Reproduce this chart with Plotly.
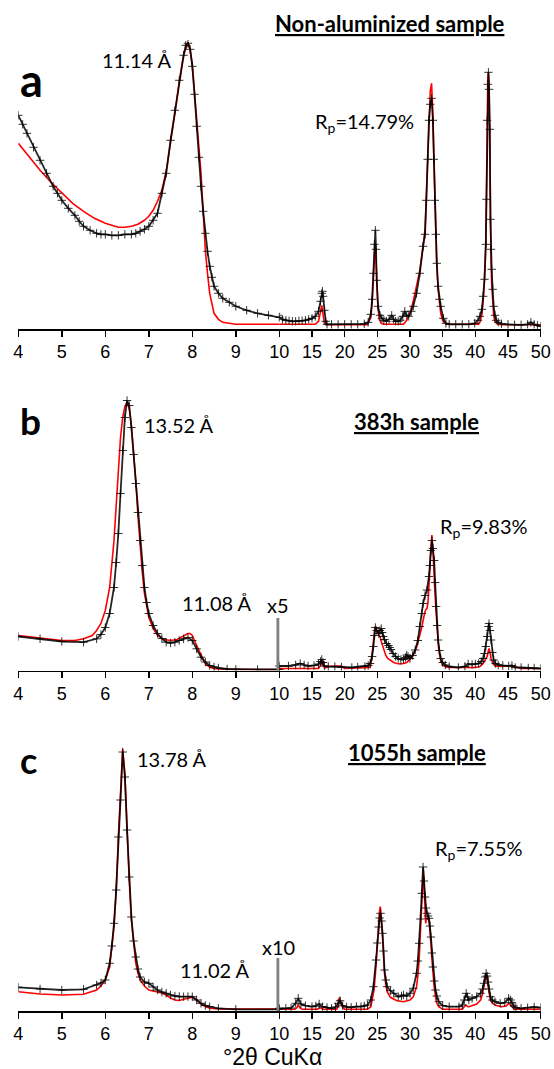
import plotly.graph_objects as go

# ---------------- data (2theta in degrees, intensity in arbitrary units) ----------------
# Panel a : Non-aluminized sample
a_obs_theta = [4.0, 4.1, 4.2, 4.35, 4.5, 4.65, 4.8, 4.9, 5.0, 5.15, 5.3, 5.4, 5.5, 5.65, 5.8, 5.9, 6.0, 6.15, 6.3, 6.45,
               6.6, 6.7, 6.8, 6.9, 7.0, 7.1, 7.2, 7.3, 7.4, 7.5, 7.6, 7.7, 7.8, 7.85, 7.9, 7.95, 8.0, 8.05, 8.1, 8.15,
               8.2, 8.25, 8.3, 8.35, 8.4, 8.45, 8.5, 8.6, 8.7, 8.85, 9.0, 9.25, 9.5, 9.75, 10.0,
               10.5, 11.0, 11.5, 12.0, 12.5, 13.0, 13.5, 14.0, 14.5, 15.0, 15.5, 16.0, 16.3, 16.5, 16.6, 16.7, 16.9,
               17.1, 17.3, 18.0, 19.0, 20.0, 21.0, 22.0, 23.0, 23.6, 24.0, 24.2, 24.4, 24.55, 24.7, 24.8, 24.9, 25.1,
               25.4, 25.7, 26.0, 26.4, 26.8, 27.2, 27.5, 27.8, 28.2, 28.5, 28.9, 29.2, 29.5, 29.8, 30.2, 30.5, 31.0,
               31.5, 32.0, 32.3, 32.5, 32.7, 32.9, 33.1, 33.3, 33.5, 33.65, 33.8, 33.95, 34.1, 34.3, 34.5, 34.7, 35.1,
               35.5, 36.0, 37.0, 38.0, 39.0, 39.9, 40.4, 40.7, 41.0, 41.2, 41.4, 41.6, 41.7, 41.8, 41.9, 42.0, 42.1,
               42.2, 42.3, 42.4, 42.5, 42.65, 42.8, 43.0, 43.2, 43.5, 44.0, 45.0, 46.0, 47.0, 48.0, 48.5, 49.0, 49.5, 50.0]
a_obs = [214, 205, 196, 182, 169, 156, 143, 136, 129, 121, 114, 108, 103, 99, 96, 95, 95, 94, 94, 95,
         95, 96, 98, 100, 103, 109, 116, 136, 156, 189, 219, 249, 274, 284, 286, 280, 263, 235, 203, 172,
         143, 118, 96, 78, 63, 52, 43, 36, 31, 27, 23, 19, 16, 14, 12,
         10, 9, 8.5, 8, 8, 8.5, 8.5, 9, 10, 11, 13, 18, 28, 36, 38, 33, 19,
         8, 5, 5, 5, 5, 5, 5, 5.5, 7, 15, 30, 56, 85, 99, 80, 49, 23,
         14, 11, 9, 8, 10, 14, 10, 8, 8, 9, 13, 18, 14, 13, 18, 23, 36,
         56, 83, 95, 129, 170, 209, 225, 231, 209, 170, 129, 95, 66, 43, 30, 23, 11,
         6, 5, 5, 5, 5, 6, 9, 13, 20, 33, 50, 85, 130, 209, 245, 257, 240,
         200, 110, 80, 60, 40, 23, 14, 9, 7, 5.5, 5, 4.5, 4.5, 5, 7, 5, 4, 3]
a_calc_theta = [4.0, 4.25, 4.5, 4.75, 5.0, 5.25, 5.5, 5.75, 6.0, 6.15, 6.3, 6.45, 6.6, 6.75, 6.9, 7.0, 7.1, 7.2, 7.3,
                7.4, 7.5, 7.6, 7.7, 7.8, 7.9, 7.95, 8.0, 8.05, 8.1, 8.15, 8.2, 8.25, 8.3, 8.35, 8.4, 8.5, 8.6, 8.7,
                9.0, 10.0, 15.5, 16.0, 16.3, 16.5, 16.7, 16.9, 17.2, 20.0, 23.5, 24.0, 24.2, 24.4, 24.55, 24.65,
                24.8, 24.9, 25.1, 25.3, 25.6, 26.0, 29.0, 29.5, 30.0, 30.5, 31.0, 31.5, 32.0, 32.3, 32.5, 32.7,
                32.9, 33.1, 33.3, 33.5, 33.65, 33.8, 33.95, 34.1, 34.3, 34.5, 34.7, 35.0, 35.5, 36.0, 40.5, 40.7,
                41.0, 41.2, 41.4, 41.6, 41.7, 41.8, 41.9, 42.0, 42.1, 42.2, 42.3, 42.4, 42.5, 42.65, 42.8, 43.0,
                43.5, 44.0, 50.0]
a_calc = [186, 172, 159, 147, 136, 126, 118, 111, 106, 104, 102, 102, 103, 105, 109, 113, 119, 128, 139,
          158, 186, 216, 248, 274, 287, 280, 265, 240, 210, 183, 156, 115, 79, 56, 36, 16, 10, 7,
          5, 5, 5, 8, 16, 24, 15, 6, 4.5, 4.5, 4.5, 12, 25, 50, 78, 86,
          70, 45, 22, 10, 6, 5, 5, 9, 16, 28, 43, 59, 83, 100, 133, 175,
          212, 238, 246, 215, 172, 130, 95, 64, 40, 25, 16, 9, 5.5, 5, 5, 7,
          15, 29, 50, 85, 140, 215, 250, 257, 245, 200, 110, 70, 45, 25, 14, 8,
          5, 4.5, 4.5]

# Panel b : 383h sample (x5 above 10 deg)
b_obs_theta = [4.0, 4.5, 5.0, 5.5, 5.8, 5.9, 6.0, 6.1, 6.2, 6.25, 6.3, 6.35, 6.4, 6.45, 6.5, 6.55, 6.6, 6.65, 6.7,
               6.75, 6.8, 6.85, 6.9, 6.95, 7.0, 7.1, 7.2, 7.3, 7.4, 7.5, 7.6, 7.7, 7.8, 7.9, 8.0, 8.1, 8.2, 8.3,
               8.4, 8.5, 8.6, 8.8, 9.0, 9.5, 10.0,
               10.0, 11.4, 12.5, 13.2, 13.8, 14.4, 15.3, 16.0, 16.3, 16.5, 16.7, 16.9, 17.5, 18.5, 19.5, 21.1,
               22.0, 23.1, 23.6, 23.9, 24.2, 24.4, 24.55, 24.7, 24.9, 25.2, 25.4, 25.6, 25.75, 25.9, 26.1, 26.4,
               26.7, 26.9, 27.1, 27.4, 27.8, 28.2, 28.6, 29.0, 29.3, 29.5, 29.7, 30.0, 30.4, 30.8, 31.2, 31.5,
               31.8, 32.0, 32.3, 32.6, 32.9, 33.05, 33.2, 33.35, 33.5, 33.7, 33.85, 34.0, 34.15, 34.3, 34.5,
               34.7, 35.0, 35.4, 36.0, 37.4, 38.4, 38.9, 39.5, 40.0, 40.5, 40.9, 41.2, 41.4, 41.6, 41.8, 42.0,
               42.1, 42.25, 42.4, 42.6, 42.8, 43.1, 43.5, 44.2, 45.1, 45.6, 46.1, 47.0, 48.1, 49.0, 50.0]
b_obs = [34, 31.7, 29, 28.3, 31.7, 36, 43, 57, 83, 108, 137, 177, 220, 253, 270, 265, 243, 216, 187,
         158, 130, 105, 83, 68, 57, 45, 37, 32, 28.3, 27.5, 28.3, 30, 31.7, 33, 30, 21.7, 13.3, 8.5,
         5, 3.5, 2.5, 1.5, 1.2, 1, 1,
         4.5, 4.5, 5.5, 7, 5.5, 4.5, 5, 6.5, 9, 11, 8, 4.5, 4, 4, 3.5, 3,
         3.5, 4, 5, 7, 14, 24, 35, 43, 40, 37, 40, 42, 38, 34, 31, 27,
         25, 23, 21, 17, 14, 12, 11, 11, 13, 15.5, 14, 12, 15, 20.5, 30, 44,
         57, 67, 75, 80.5, 94, 105, 120, 130, 122, 110, 88, 64, 45, 30.5, 20,
         12, 8, 5.5, 4, 3, 4, 6.5, 6, 6.5, 7, 9, 12, 17, 24, 34, 44,
         47, 40, 30.5, 18, 10.5, 7, 5.5, 5, 4.5, 5, 3, 3, 2.5, 2.5, 2]
b_calc_theta = [4.0, 4.5, 5.0, 5.3, 5.5, 5.7, 5.8, 5.9, 6.0, 6.1, 6.2, 6.25, 6.3, 6.35, 6.4, 6.45, 6.5, 6.55, 6.6,
                6.65, 6.7, 6.75, 6.8, 6.85, 6.9, 6.95, 7.0, 7.1, 7.2, 7.35, 7.5, 7.65, 7.8, 7.9, 7.95, 8.0, 8.1,
                8.2, 8.3, 8.4, 8.5, 9.0, 10.0,
                10.0, 16.0, 16.3, 16.5, 16.7, 17.0, 17.5, 18.5, 19.5, 20.0, 23.9, 24.1, 24.3, 24.5, 24.65, 24.8,
                25.0, 25.2, 25.4, 25.7, 26.0, 26.3, 26.6, 27.0, 27.5, 28.0, 28.5, 29.0, 29.5, 30.0, 30.5, 31.0,
                31.5, 31.8, 32.0, 32.15, 32.3, 32.45, 32.6, 32.75, 32.9, 33.0, 33.1, 33.2, 33.35, 33.5, 33.6,
                33.8, 34.0, 34.2, 34.4, 34.7, 35.0, 35.5, 36.0, 40.0, 40.7, 41.2, 41.5, 41.8, 42.0, 42.1, 42.25,
                42.4, 42.7, 43.0, 44.0, 45.0, 45.6, 46.0, 47.0, 50.0]
b_calc = [35, 32.5, 30, 30, 31.7, 35, 40, 47, 60, 83, 130, 165, 203, 233, 253, 264, 268, 262, 245,
          220, 190, 155, 123, 98, 77, 63, 53, 42, 35, 31, 30, 31, 35, 37, 37, 35, 25,
          15, 6.7, 3.5, 1.7, 1, 1,
          2, 2, 5, 9, 5, 2.5, 4, 4.5, 4.5, 2, 3, 10, 25, 40, 44, 41,
          39, 37, 34, 27, 20.5, 15, 12, 10, 8, 7, 6.5, 7, 8, 11, 15.5, 23,
          34, 43, 50, 55, 59, 61, 62, 68, 80, 95, 114, 128, 135.5, 122, 104,
          80, 57, 36, 20.5, 10, 5.5, 3.5, 3, 3, 4, 7, 10, 14, 20, 22, 18,
          12, 7, 4.5, 4, 4.5, 5, 4, 2, 2]

# Panel c : 1055h sample (x10 above 10 deg)
c_obs_theta = [4.0, 4.5, 5.0, 5.5, 5.8, 5.9, 6.0, 6.1, 6.15, 6.2, 6.25, 6.3, 6.35, 6.4, 6.45, 6.5, 6.55, 6.6, 6.65,
               6.7, 6.75, 6.8, 6.9, 7.0, 7.1, 7.2, 7.3, 7.4, 7.5, 7.6, 7.7, 7.8, 7.9, 8.0, 8.1, 8.2, 8.3, 8.4,
               8.6, 9.0, 10.0,
               10.0, 11.0, 11.8, 12.5, 12.9, 13.3, 14.0, 15.0, 15.6, 16.1, 16.6, 17.3, 18.0, 18.6, 19.0, 19.3,
               19.7, 20.3, 21.0, 21.8, 22.5, 23.0, 23.5, 24.0, 24.4, 24.8, 25.0, 25.2, 25.35, 25.5, 25.65, 25.8,
               25.95, 26.1, 26.3, 26.5, 27.0, 27.5, 28.2, 28.7, 29.0, 29.5, 30.0, 30.5, 31.0, 31.2, 31.4, 31.6,
               31.8, 32.0, 32.15, 32.3, 32.45, 32.6, 32.75, 32.9, 33.05, 33.2, 33.35, 33.5, 33.7, 33.9, 34.1,
               34.4, 35.0, 36.0, 37.5, 38.0, 38.3, 38.6, 38.8, 39.0, 39.5, 40.2, 40.8, 41.1, 41.3, 41.5, 41.65,
               41.8, 41.95, 42.1, 42.3, 42.6, 43.0, 43.8, 44.5, 45.1, 45.4, 45.6, 45.9, 46.2, 47.0, 48.0, 49.0, 50.0]
c_obs = [23.7, 22, 21, 21.7, 26, 28, 31, 47.7, 65, 87.7, 121, 174, 211, 259, 234, 181, 134, 94, 70,
         54, 42, 34, 29, 27.7, 24, 21, 19, 17.7, 16, 15, 14.5, 14.3, 14.5, 14.3, 11, 7.7, 5.5, 4.3,
         2.7, 1.7, 1.7,
         2.7, 2.7, 3, 7.7, 12.7, 7, 5.3, 4.3, 5, 7, 4.3, 3.5, 2.7, 4, 7.7, 10.3,
         5.3, 4, 3.7, 4.5, 4.3, 5, 6, 11, 24.3, 51, 68, 84, 93, 97.7, 90, 77.7,
         60, 41, 31, 24.3, 20.3, 17.7, 14.3, 15, 16, 15, 17.7, 22.7, 37.7, 50, 67.7, 92,
         117.7, 144, 130, 114, 103, 97.7, 95, 92.7, 85, 74, 58, 44, 30, 21, 15,
         9.3, 5.3, 4.3, 4.3, 6, 11, 17.7, 14, 11, 12.7, 14.3, 17.7, 22, 27.7, 34, 37.7,
         35, 29, 22, 14.3, 11, 9.3, 7.7, 8.3, 12.7, 11, 8.3, 5, 3.3, 2.7, 3.3, 4, 3.3]
c_calc_theta = [4.0, 4.5, 5.0, 5.5, 5.8, 5.9, 6.0, 6.1, 6.2, 6.25, 6.3, 6.35, 6.4, 6.45, 6.5, 6.55, 6.6, 6.65, 6.7,
                6.75, 6.8, 6.9, 7.0, 7.1, 7.2, 7.3, 7.4, 7.5, 7.6, 7.7, 7.8, 7.9, 8.0, 8.1, 8.2, 8.3, 8.4, 8.6,
                9.0, 10.0,
                10.0, 12.4, 12.7, 12.9, 13.2, 13.5, 15.8, 16.3, 16.7, 18.8, 19.0, 19.2, 19.4, 19.6, 20.0, 23.5,
                24.0, 24.5, 24.8, 25.0, 25.15, 25.3, 25.45, 25.6, 25.8, 25.95, 26.1, 26.3, 26.5, 27.0, 28.0, 29.0,
                30.0, 30.5, 31.0, 31.2, 31.4, 31.6, 31.8, 31.95, 32.05, 32.2, 32.3, 32.4, 32.5, 32.6, 32.9, 33.05,
                33.2, 33.35, 33.5, 33.7, 33.9, 34.1, 34.4, 35.0, 38.0, 38.3, 38.5, 38.8, 39.0, 40.2, 40.8, 41.1,
                41.3, 41.5, 41.6, 41.75, 41.9, 42.1, 42.3, 42.6, 43.0, 44.0, 44.7, 45.1, 45.4, 45.6, 46.0, 50.0]
c_calc = [19.3, 17, 16, 16.7, 21, 25, 31, 44, 84, 120, 174, 220, 262, 238, 181, 130, 91, 65, 48,
          38, 31, 25, 21, 20, 19.3, 18, 16, 13, 11, 10.5, 11.7, 13, 13.7, 11, 7, 4.5, 2.7, 2,
          1.7, 1.7,
          1.7, 1.7, 3.5, 6, 3, 1.7, 1.7, 3.3, 1.7, 1.7, 6, 13.7, 8, 4.3, 1.7, 1.7,
          4.3, 21, 45, 67.7, 85, 97.7, 104.3, 95, 74, 55, 37.7, 26, 19.3, 13.7, 10.3, 9.3,
          11, 14.3, 24.3, 35, 51, 80, 111, 138, 141, 117.7, 100, 87.7, 92, 92.7, 91, 82,
          67.7, 52, 37.7, 24, 14.3, 8, 4.3, 1.7, 1.7, 4, 6, 4.5, 4.3, 7, 11, 17,
          24.3, 32, 36, 33, 27.7, 18, 11, 8, 6, 4.3, 5, 7.7, 6, 4, 1.7, 1.7]

left_ticks = [4, 5, 6, 7, 8, 9, 10]
left_ticktext = ["4", "5", "6", "7", "8", "9", ""]
right_ticks = [10, 15, 20, 25, 30, 35, 40, 45, 50]
right_ticktext = ["10", "15", "20", "25", "30", "35", "40", "45", "50"]

# ---------------- layout helpers (pixel -> paper) ----------------
W, H = 554, 1069
def px(x):
    return x / W
def py(y):
    return 1 - y / H

XL0, XM, XR1 = 18.3, 279.3, 540.7
panels = [
    # (obs theta, obs, calc theta, calc, axis px y, top px y, ymax)
    (a_obs_theta, a_obs, a_calc_theta, a_calc, 329.3, 40, 289.3),
    (b_obs_theta, b_obs, b_calc_theta, b_calc, 670.5, 395, 275.5),
    (c_obs_theta, c_obs, c_calc_theta, c_calc, 1011, 745, 266),
]

fig = go.Figure()
layout = {}
for i, (ot, oy, ct, cy, ybot, ytop, ymax) in enumerate(panels):
    xa_l = 2 * i + 1
    xa_r = 2 * i + 2
    ya = i + 1
    xl_name = "x" if xa_l == 1 else f"x{xa_l}"
    xr_name = f"x{xa_r}"
    y_name = "y" if ya == 1 else f"y{ya}"
    for xname in (xl_name, xr_name):
        fig.add_trace(go.Scatter(x=ct, y=cy, mode="lines", xaxis=xname, yaxis=y_name,
                                 line=dict(color="#ff0000", width=1.6), showlegend=False, hoverinfo="skip"))
        fig.add_trace(go.Scatter(x=ot, y=oy, mode="lines+markers", xaxis=xname, yaxis=y_name,
                                 line=dict(color="rgba(0,0,0,0.85)", width=1.8),
                                 marker=dict(symbol="cross-thin", size=6, color="black",
                                             line=dict(color="rgba(0,0,0,0.8)", width=1)),
                                 showlegend=False, hoverinfo="skip"))
    common = dict(showline=True, linecolor="black", linewidth=1.5, ticks="outside", ticklen=6,
                  tickwidth=1.5, tickcolor="black", showgrid=False, zeroline=False, automargin=False,
                  tickfont=dict(family="Liberation Sans", size=18, color="black"))
    layout["xaxis" if xa_l == 1 else f"xaxis{xa_l}"] = dict(
        domain=[px(XL0), px(XM)], range=[4, 10], anchor=y_name,
        tickvals=left_ticks, ticktext=left_ticktext, **common)
    layout[f"xaxis{xa_r}"] = dict(
        domain=[px(XM), px(XR1)], range=[10, 50], anchor=y_name,
        tickvals=right_ticks, ticktext=right_ticktext, **common)
    layout["yaxis" if ya == 1 else f"yaxis{ya}"] = dict(
        domain=[py(ybot), py(ytop)], range=[0, ymax], visible=False, anchor=xl_name, automargin=False)

fig.update_layout(**layout)

# scale-change markers (x5, x10)
scale_marks = [("x3", "y2", 52.5), ("x5", "y3", 53)]
for xr, yr, h in scale_marks:
    fig.add_shape(type="rect", xref=xr, yref=yr, x0=9.935, x1=10.03, y0=0, y1=h,
                  line=dict(width=0), fillcolor="#808080")

LATO = "Lato, Open Sans, sans-serif"
def ann(text, x, y, size=20, xanchor="left", family=LATO):
    fig.add_annotation(text=text, x=px(x), y=py(y), xref="paper", yref="paper",
                       xanchor=xanchor, yanchor="middle", showarrow=False,
                       font=dict(family=family, size=size, color="black"))

ann("<u><b>Non-aluminized sample</b></u>", 390, 23, size=22, xanchor="center")
ann("<b>a</b>", 18, 80, size=45)
ann("11.14 Å", 100, 60)
ann("R<sub>p</sub>=14.79%", 313, 122)

ann("<u><b>383h sample</b></u>", 416.5, 422, size=22, xanchor="center")
ann("<b>b</b>", 18, 420, size=37)
ann("13.52 Å", 142, 425)
ann("11.08 Å", 180, 603)
ann("x5", 277.5, 605, xanchor="center")
ann("R<sub>p</sub>=9.83%", 438, 527)

ann("<u><b>1055h sample</b></u>", 417, 752, size=22, xanchor="center")
ann("<b>c</b>", 18, 760, size=36)
ann("13.78 Å", 135, 759)
ann("11.02 Å", 178, 970)
ann("x10", 278.5, 947, xanchor="center")
ann("R<sub>p</sub>=7.55%", 433, 849)

ann("°2θ CuKα", 272, 1057, size=23, xanchor="center", family="Liberation Sans")

fig.update_layout(width=W, height=H,
                  margin=dict(l=0, r=0, t=0, b=0, pad=0, autoexpand=False),
                  paper_bgcolor="white", plot_bgcolor="white", hovermode=False)

fig.write_html("out.html", config={"displayModeBar": False, "staticPlot": True},
               post_script="document.body.style.margin='0';document.body.style.overflow='hidden';")
